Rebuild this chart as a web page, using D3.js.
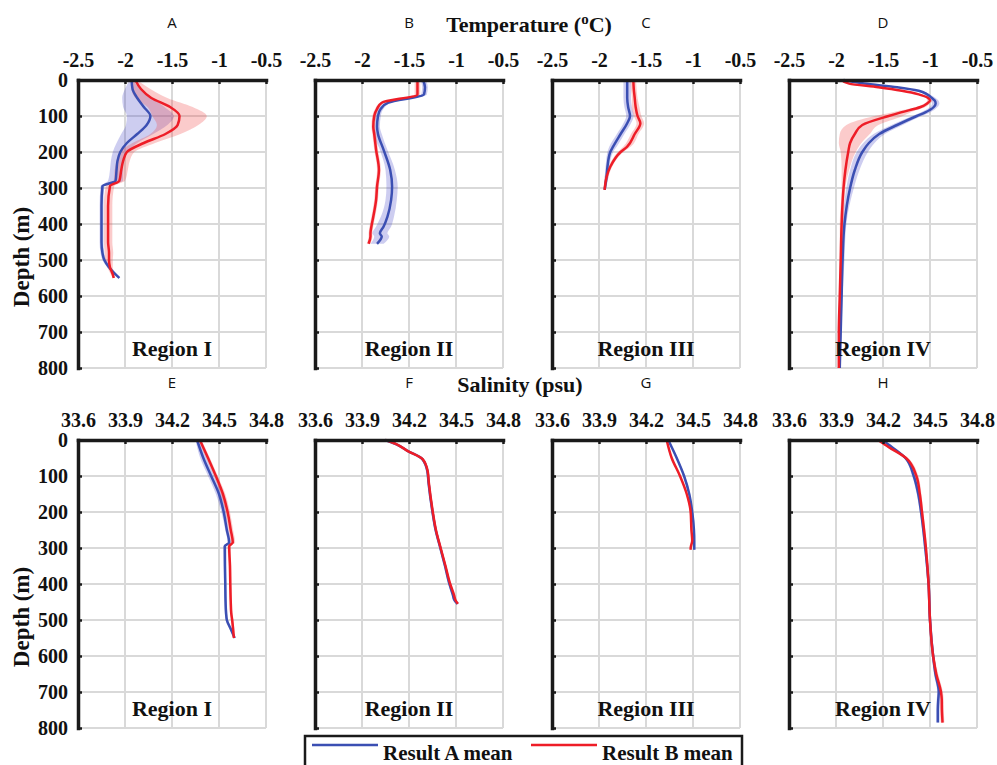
<!DOCTYPE html>
<html>
<head>
<meta charset="utf-8">
<script src="https://cdn.jsdelivr.net/npm/d3@7"></script>
<style>
  body { margin: 0; background: #fff; }
  svg text { font-family: "Liberation Serif", "Times New Roman", serif; font-weight: bold; fill: #111; }
  svg text.letter { font-family: "Open Sans", sans-serif; font-weight: normal; }
</style>
</head>
<body>
<svg id="chart" width="997" height="765"></svg>
<script>
// ---- data ----
var panelLetters = ["A", "B", "C", "D", "E", "F", "G", "H"];
var regionNames = ["Region I", "Region II", "Region III", "Region IV"];
var tempTicks = [-2.5, -2, -1.5, -1, -0.5];
var salTicks = [33.6, 33.9, 34.2, 34.5, 34.8];
var depthTicks = [0, 100, 200, 300, 400, 500, 600, 700, 800];
var legendNames = ["Result A mean", "Result B mean"];

// temperature, region I
var depthA = [0, 25, 50, 75, 100, 125, 150, 175, 200, 225, 250, 280, 295, 350, 400, 450, 480, 500, 520, 540, 550];
var aMeanA = [-1.93, -1.92, -1.87, -1.80, -1.73, -1.77, -1.87, -1.98, -2.05, -2.08, -2.09, -2.10, -2.24, -2.25, -2.25, -2.25, -2.24, -2.22, -2.17, -2.10, -2.06];
var aBandA = [0.02, 0.08, 0.16, 0.22, 0.25, 0.22, 0.17, 0.11, 0.08, 0.07, 0.07, 0.08, 0.02, 0.02, 0.02, 0.02, 0.02, 0.02, 0.02, 0.01, 0.01];
var bMeanA = [-1.89, -1.83, -1.72, -1.52, -1.42, -1.44, -1.57, -1.80, -1.98, -2.02, -2.04, -2.06, -2.16, -2.18, -2.18, -2.18, -2.17, -2.17, -2.16, -2.13, -2.12];
var bBandA = [0.02, 0.10, 0.17, 0.24, 0.29, 0.22, 0.16, 0.12, 0.08, 0.07, 0.07, 0.06, 0.045, 0.045, 0.045, 0.045, 0.045, 0.04, 0.03, 0.02, 0.01];

// temperature, region II
var depthB = [0, 20, 40, 63, 80, 100, 130, 150, 194, 250, 296, 333, 380, 407, 426, 435, 455];
var aMeanB = [-1.35, -1.33, -1.34, -1.72, -1.80, -1.83, -1.84, -1.83, -1.77, -1.70, -1.68, -1.69, -1.73, -1.77, -1.81, -1.79, -1.84];
var aBandB = [0.03, 0.03, 0.03, 0.03, 0.03, 0.03, 0.03, 0.04, 0.04, 0.05, 0.06, 0.06, 0.07, 0.08, 0.08, 0.08, 0.07];
var bMeanB = [-1.41, -1.41, -1.41, -1.79, -1.84, -1.87, -1.88, -1.87, -1.85, -1.82, -1.84, -1.85, -1.88, -1.90, -1.91, -1.91, -1.93];
var bBandB = [0.03, 0.03, 0.03, 0.02, 0.02, 0.02, 0.02, 0.02, 0.02, 0.02, 0.02, 0.02, 0.02, 0.02, 0.02, 0.02, 0.02];

// temperature, region III
var depthC = [0, 25, 50, 75, 100, 120, 150, 185, 200, 241, 270, 305];
var aMeanC = [-1.70, -1.70, -1.70, -1.69, -1.67, -1.70, -1.77, -1.85, -1.88, -1.91, -1.92, -1.94];
var aBandC = [0.04, 0.04, 0.04, 0.04, 0.04, 0.04, 0.04, 0.04, 0.03, 0.02, 0.02, 0.01];
var bMeanC = [-1.635, -1.63, -1.62, -1.61, -1.59, -1.56, -1.62, -1.70, -1.77, -1.88, -1.92, -1.94];
var bBandC = [0.03, 0.03, 0.03, 0.04, 0.04, 0.04, 0.04, 0.04, 0.03, 0.02, 0.02, 0.01];

// temperature, region IV
var depthD = [0, 10, 20, 30, 40, 50, 57, 65, 75, 90, 100, 125, 150, 175, 200, 250, 300, 400, 500, 600, 700, 800];
var aMeanD = [-1.92, -1.70, -1.35, -1.12, -1.03, -0.98, -0.95, -0.94, -0.96, -1.05, -1.14, -1.35, -1.54, -1.65, -1.72, -1.80, -1.85, -1.91, -1.93, -1.94, -1.95, -1.96];
var aBandD = [0.02, 0.03, 0.03, 0.03, 0.03, 0.04, 0.04, 0.04, 0.04, 0.05, 0.05, 0.06, 0.06, 0.06, 0.06, 0.05, 0.04, 0.02, 0.02, 0.01, 0.01, 0.01];
var bMeanD = [-1.94, -1.86, -1.55, -1.30, -1.12, -1.02, -1.00, -1.03, -1.10, -1.31, -1.44, -1.72, -1.80, -1.85, -1.87, -1.90, -1.92, -1.94, -1.95, -1.96, -1.97, -1.97];
var bBandD = [0.02, 0.02, 0.02, 0.02, 0.02, 0.02, 0.03, 0.03, 0.05, 0.10, 0.15, 0.17, 0.16, 0.12, 0.08, 0.04, 0.02, 0.02, 0.01, 0.01, 0.01, 0.01];

// salinity, region I
var depthE = [0, 50, 100, 150, 200, 250, 285, 295, 350, 400, 450, 480, 500, 525, 550];
var aMeanE = [34.36, 34.40, 34.45, 34.50, 34.53, 34.55, 34.565, 34.537, 34.538, 34.54, 34.542, 34.545, 34.55, 34.575, 34.60];
var aBandE = [0.01, 0.02, 0.02, 0.02, 0.015, 0.01, 0.01, 0.01, 0.008, 0.008, 0.008, 0.008, 0.008, 0.008, 0.005];
var bMeanE = [34.378, 34.43, 34.48, 34.525, 34.555, 34.575, 34.588, 34.565, 34.57, 34.572, 34.575, 34.578, 34.584, 34.59, 34.595];
var bBandE = [0.01, 0.012, 0.012, 0.015, 0.015, 0.015, 0.015, 0.01, 0.008, 0.008, 0.008, 0.008, 0.008, 0.008, 0.005];

// salinity, region II
var depthF = [0, 12, 30, 53, 86, 120, 200, 250, 300, 350, 400, 430, 445, 455];
var aMeanF = [34.045, 34.12, 34.19, 34.285, 34.317, 34.325, 34.35, 34.37, 34.40, 34.43, 34.458, 34.48, 34.49, 34.51];
var aBandF = [0.008, 0.008, 0.008, 0.008, 0.008, 0.008, 0.008, 0.008, 0.008, 0.008, 0.008, 0.008, 0.008, 0.008];
var bMeanF = [34.05, 34.122, 34.19, 34.287, 34.319, 34.327, 34.352, 34.372, 34.402, 34.433, 34.463, 34.487, 34.497, 34.512];
var bBandF = [0.006, 0.006, 0.006, 0.006, 0.006, 0.006, 0.006, 0.006, 0.006, 0.006, 0.006, 0.006, 0.006, 0.006];

// salinity, region III
var depthG = [0, 50, 100, 150, 200, 250, 280, 300, 305];
var aMeanG = [34.342, 34.396, 34.443, 34.476, 34.495, 34.506, 34.508, 34.508, 34.508];
var aBandG = [0.006, 0.006, 0.006, 0.006, 0.006, 0.006, 0.006, 0.006, 0.006];
var bMeanG = [34.332, 34.364, 34.417, 34.46, 34.485, 34.49, 34.495, 34.485, 34.485];
var bBandG = [0.005, 0.005, 0.005, 0.005, 0.005, 0.005, 0.005, 0.005, 0.005];

// salinity, region IV
var depthH = [0, 20, 50, 100, 150, 200, 300, 400, 500, 600, 650, 700, 720, 750, 785];
var aMeanH = [34.195, 34.258, 34.343, 34.396, 34.425, 34.443, 34.470, 34.491, 34.50, 34.52, 34.535, 34.556, 34.553, 34.550, 34.55];
var aBandH = [0.008, 0.01, 0.01, 0.01, 0.01, 0.008, 0.008, 0.008, 0.008, 0.008, 0.01, 0.01, 0.01, 0.01, 0.01];
var bMeanH = [34.167, 34.237, 34.347, 34.413, 34.435, 34.449, 34.474, 34.491, 34.50, 34.52, 34.54, 34.57, 34.575, 34.576, 34.58];
var bBandH = [0.008, 0.01, 0.012, 0.012, 0.01, 0.008, 0.008, 0.008, 0.008, 0.008, 0.012, 0.012, 0.012, 0.012, 0.012];

var panels = [
  {depth: depthA, a: aMeanA, aBand: aBandA, b: bMeanA, bBand: bBandA},
  {depth: depthB, a: aMeanB, aBand: aBandB, b: bMeanB, bBand: bBandB},
  {depth: depthC, a: aMeanC, aBand: aBandC, b: bMeanC, bBand: bBandC},
  {depth: depthD, a: aMeanD, aBand: aBandD, b: bMeanD, bBand: bBandD},
  {depth: depthE, a: aMeanE, aBand: aBandE, b: bMeanE, bBand: bBandE},
  {depth: depthF, a: aMeanF, aBand: aBandF, b: bMeanF, bBand: bBandF},
  {depth: depthG, a: aMeanG, aBand: aBandG, b: bMeanG, bBand: bBandG},
  {depth: depthH, a: aMeanH, aBand: aBandH, b: bMeanH, bBand: bBandH}
];

// ---- layout ----
var colLeft = [78, 315, 552, 789];
var rowTop = [80, 440];
var pw = 188, ph = 288;
var blue = "#3b4fb3", red = "#ee1d27";
var blueFill = "rgba(70,70,200,0.27)", redFill = "rgba(240,70,70,0.28)";
var serif = '"Liberation Serif", "Times New Roman", serif';

var svg = d3.select("#chart");

function drawPanel(i) {
  var col = i % 4, row = Math.floor(i / 4);
  var p = panels[i];
  var left = colLeft[col], top = rowTop[row];
  var ticks = row === 0 ? tempTicks : salTicks;

  var x = d3.scaleLinear().domain([ticks[0], ticks[ticks.length - 1]]).range([left, left + pw]);
  var y = d3.scaleLinear().domain([0, 800]).range([top, top + ph]);

  var g = svg.append("g");

  // grid
  g.selectAll(".vg").data(ticks.slice(1)).enter().append("line")
    .attr("x1", function(d) { return x(d); }).attr("x2", function(d) { return x(d); })
    .attr("y1", top).attr("y2", top + ph)
    .attr("stroke", "#d9d9d9").attr("stroke-width", 2);
  g.selectAll(".hg").data(depthTicks.slice(1)).enter().append("line")
    .attr("x1", left).attr("x2", left + pw)
    .attr("y1", function(d) { return y(d); }).attr("y2", function(d) { return y(d); })
    .attr("stroke", "#d9d9d9").attr("stroke-width", 2);

  var rows = p.depth.map(function(d, k) {
    return {d: d, a: p.a[k], aw: p.aBand[k], b: p.b[k], bw: p.bBand[k]};
  });

  var areaA = d3.area().curve(d3.curveMonotoneY)
    .y(function(d) { return y(d.d); })
    .x0(function(d) { return x(d.a - d.aw); })
    .x1(function(d) { return x(d.a + d.aw); });
  var areaB = d3.area().curve(d3.curveMonotoneY)
    .y(function(d) { return y(d.d); })
    .x0(function(d) { return x(d.b - d.bw); })
    .x1(function(d) { return x(d.b + d.bw); });
  var lineA = d3.line().curve(d3.curveMonotoneY)
    .x(function(d) { return x(d.a); }).y(function(d) { return y(d.d); });
  var lineB = d3.line().curve(d3.curveMonotoneY)
    .x(function(d) { return x(d.b); }).y(function(d) { return y(d.d); });

  g.append("path").datum(rows).attr("d", areaA).attr("fill", blueFill);
  g.append("path").datum(rows).attr("d", areaB).attr("fill", redFill);
  g.append("path").datum(rows).attr("d", lineA).attr("fill", "none")
    .attr("stroke", blue).attr("stroke-width", 2.5);
  g.append("path").datum(rows).attr("d", lineB).attr("fill", "none")
    .attr("stroke", red).attr("stroke-width", 2.5);

  // axes (MATLAB style: top and left, ticks inward)
  var xAxis = d3.axisTop(x).tickValues(ticks).tickSize(-4).tickSizeOuter(0).tickPadding(13)
    .tickFormat(function(d) { return String(d); });
  var yAxis = d3.axisLeft(y).tickValues(depthTicks).tickSize(-4).tickSizeOuter(0).tickPadding(10)
    .tickFormat(function(d) { return col === 0 ? String(d) : ""; });

  var gx = g.append("g").attr("transform", "translate(0," + top + ")").call(xAxis);
  var gy = g.append("g").attr("transform", "translate(" + left + ",0)").call(yAxis);
  [gx, gy].forEach(function(ax) {
    ax.attr("font-family", serif);
    ax.select(".domain").attr("stroke", "#1a1a1a").attr("stroke-width", 3.5).attr("stroke-linecap", "square");
    ax.selectAll(".tick line").attr("stroke", "#1a1a1a").attr("stroke-width", 2.5);
    ax.selectAll(".tick text").style("font-family", serif).style("font-weight", "bold")
      .attr("font-size", 20).attr("fill", "#111");
  });

  // panel letter and region name
  g.append("text").attr("class", "letter")
    .attr("x", left + pw / 2).attr("y", top - 52)
    .attr("text-anchor", "middle").attr("font-size", 15)
    .text(panelLetters[i]);
  g.append("text")
    .attr("x", left + pw / 2).attr("y", top + 276)
    .attr("text-anchor", "middle").attr("font-size", 22)
    .text(regionNames[col]);

  if (col === 0) {
    g.append("text")
      .attr("transform", "translate(29," + (top + ph / 2 + 33) + ") rotate(-90)")
      .attr("text-anchor", "middle").attr("font-size", 23)
      .text("Depth (m)");
  }
}

for (var i = 0; i < panels.length; i++) drawPanel(i);

// row titles
var tTitle = svg.append("text").attr("x", 529).attr("y", 32)
  .attr("text-anchor", "middle").attr("font-size", 22);
tTitle.append("tspan").text("Temperature (");
tTitle.append("tspan").attr("font-size", 15).attr("dy", -8).text("o");
tTitle.append("tspan").attr("dy", 8).text("C)");

svg.append("text").attr("x", 520).attr("y", 392)
  .attr("text-anchor", "middle").attr("font-size", 22)
  .text("Salinity (psu)");

// legend
var lg = svg.append("g");
lg.append("rect").attr("x", 305).attr("y", 736).attr("width", 437).attr("height", 40)
  .attr("fill", "#fff").attr("stroke", "#1a1a1a").attr("stroke-width", 2.5);
var legendX = [312, 531];
var legendColors = [blue, red];
legendNames.forEach(function(name, k) {
  lg.append("line").attr("x1", legendX[k]).attr("x2", legendX[k] + 66)
    .attr("y1", 745).attr("y2", 745)
    .attr("stroke", legendColors[k]).attr("stroke-width", 2.5);
  lg.append("text").attr("x", legendX[k] + 71).attr("y", 760)
    .attr("font-size", 21).text(name);
});
</script>
</body>
</html>
